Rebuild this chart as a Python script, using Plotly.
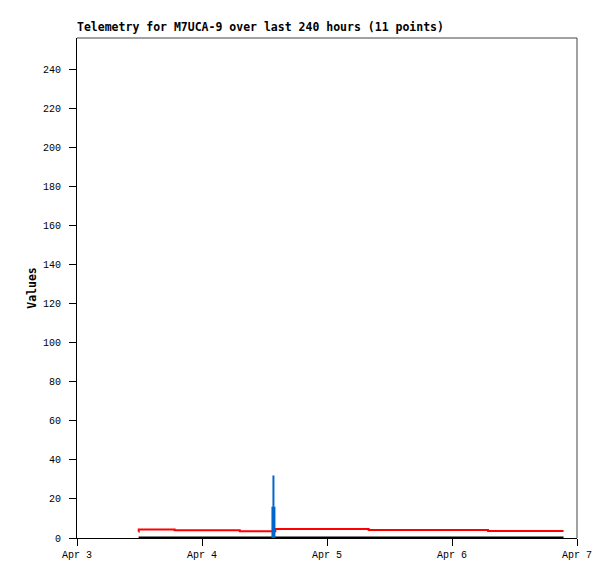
import plotly.graph_objects as go

# ---- data ----
red_times = ["2025-04-03 11:50", "2025-04-03 11:51", "2025-04-03 18:45",
             "2025-04-04 07:15", "2025-04-04 14:05", "2025-04-05 08:00",
             "2025-04-06 06:55", "2025-04-06 21:25"]
red_values = [3.2, 4.3, 4.0, 3.5, 4.6, 4.1, 3.6, 3.6]

black_times = ["2025-04-03 11:50", "2025-04-06 21:25"]
black_values = [0, 0]

blue_times = ["2025-04-04 13:43", "2025-04-04 13:43"]
blue_values = [32, 16]
blue_widths = [2, 4]

x_tick_vals = ["2025-04-03", "2025-04-04", "2025-04-05", "2025-04-06", "2025-04-07"]
x_tick_text = ["Apr 3", "Apr 4", "Apr 5", "Apr 6", "Apr 7"]
y_ticks = list(range(0, 241, 20))

title_text = "Telemetry for M7UCA-9 over last 240 hours (11 points)"
y_title = "Values"

fig = go.Figure()
fig.add_trace(go.Scatter(x=red_times, y=red_values, mode="lines",
                         line=dict(color="#ff0000", width=2, shape="hv"),
                         showlegend=False, hoverinfo="skip"))
fig.add_trace(go.Scatter(x=black_times, y=black_values, mode="lines",
                         line=dict(color="#000000", width=3),
                         showlegend=False, hoverinfo="skip"))
for t, v, w in zip(blue_times, blue_values, blue_widths):
    fig.add_trace(go.Scatter(x=[t, t], y=[0, v], mode="lines",
                             line=dict(color="#0066cc", width=w),
                             showlegend=False, hoverinfo="skip"))

# page body has an 8px default margin; figure is sized to fit the window
W, H = 607, 571
fig.update_layout(
    width=W, height=H,
    margin=dict(l=69, r=38, t=30, b=41, autoexpand=False),
    paper_bgcolor="white", plot_bgcolor="white",
    title=dict(text=title_text, x=0, xref="paper", xanchor="left",
               y=1 - 19 / H, yref="container", yanchor="middle",
               font=dict(family="DejaVu Sans Mono", size=11.5, color="black",
                         weight="bold")),
    showlegend=False,
)
fig.update_xaxes(
    type="date", range=["2025-04-03", "2025-04-07"],
    tickvals=x_tick_vals, ticktext=x_tick_text,
    ticks="outside", ticklen=7, tickcolor="black", tickwidth=1,
    showline=True, linecolor="black", linewidth=1, mirror=False,
    showgrid=False, zeroline=False,
    tickfont=dict(family="Liberation Mono", size=10, color="black"),
)
fig.update_yaxes(
    range=[0, 256], tickvals=y_ticks,
    ticks="outside", ticklen=7, tickcolor="black", tickwidth=1,
    showline=True, linecolor="black", linewidth=1, mirror=False,
    showgrid=False, zeroline=False, ticklabelstandoff=6,
    tickfont=dict(family="Liberation Mono", size=10, color="black"),
    title=dict(text=y_title, standoff=3,
               font=dict(family="DejaVu Sans Mono", size=11.5, color="black",
                         weight="bold")),
)
fig.add_shape(type="line", xref="paper", yref="paper", x0=0, x1=1, y0=1, y1=1,
              line=dict(color="#444444", width=1))
fig.add_shape(type="line", xref="paper", yref="paper", x0=1, x1=1, y0=0, y1=1,
              line=dict(color="#444444", width=1))

fig.write_html("out.html")
